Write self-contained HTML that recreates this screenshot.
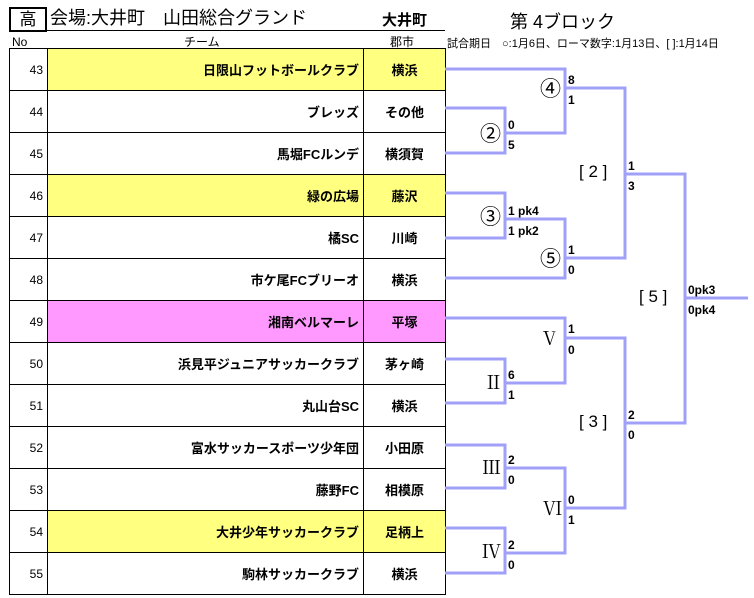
<!DOCTYPE html>
<html><head><meta charset="utf-8"><style>
body{margin:0;width:754px;height:598px;background:#fff;position:relative;overflow:hidden;font-family:"Liberation Sans","Noto Sans CJK JP",sans-serif;color:#000}
.a{position:absolute;white-space:nowrap}
table{position:absolute;left:9px;top:48px;border-collapse:collapse;table-layout:fixed;width:436px}
td{border:1px solid #000;height:41px;padding:0;font-size:13px;font-weight:bold;overflow:hidden;white-space:nowrap}
td.n{text-align:right;padding-right:4px;font-weight:normal;font-size:12px}
td.t{text-align:right;padding-right:4px}
td.c{text-align:center}
.y{background:#ffff80}.p{background:#ff99ff}
.s{position:absolute;font-size:12px;font-weight:bold;line-height:12px}
.m{position:absolute;font-size:17px;line-height:18px}
.c2{position:absolute;font-size:21px;line-height:22px;font-family:"Noto Sans CJK JP",sans-serif}
.r{position:absolute;font-size:19px;line-height:20px;font-family:"Noto Serif CJK SC",serif}
</style></head><body>
<div class="a" style="left:9px;top:7px;width:34px;height:21px;border:2px solid #000;font-size:17px;text-align:center;line-height:21px">高</div>
<div class="a" style="left:50px;top:7px;font-size:18px;line-height:22px">会場:大井町　山田総合グランド</div>
<div class="a" style="left:382px;top:9px;font-size:15px;font-weight:bold">大井町</div>
<div class="a" style="left:15px;top:30px;width:430px;border-top:1px solid #000"></div>
<div class="a" style="left:510px;top:8px;font-size:18px">第 4ブロック</div>
<div class="a" style="left:447px;top:35px;font-size:11px">試合期日　○:1月6日、ローマ数字:1月13日、[ ]:1月14日</div>
<div class="a" style="left:12px;top:35px;font-size:12px">No</div>
<div class="a" style="left:184px;top:33px;font-size:12px">チーム</div>
<div class="a" style="left:390px;top:33px;font-size:12px">郡市</div>
<table>
<colgroup><col style="width:38px"><col style="width:316px"><col style="width:82px"></colgroup>
<tr><td class="n">43</td><td class="t y">日限山フットボールクラブ</td><td class="c y">横浜</td></tr>
<tr><td class="n">44</td><td class="t">ブレッズ</td><td class="c">その他</td></tr>
<tr><td class="n">45</td><td class="t">馬堀FCルンデ</td><td class="c">横須賀</td></tr>
<tr><td class="n">46</td><td class="t y">緑の広場</td><td class="c y">藤沢</td></tr>
<tr><td class="n">47</td><td class="t">橘SC</td><td class="c">川崎</td></tr>
<tr><td class="n">48</td><td class="t">市ケ尾FCブリーオ</td><td class="c">横浜</td></tr>
<tr><td class="n">49</td><td class="t p">湘南ベルマーレ</td><td class="c p">平塚</td></tr>
<tr><td class="n">50</td><td class="t">浜見平ジュニアサッカークラブ</td><td class="c">茅ヶ崎</td></tr>
<tr><td class="n">51</td><td class="t">丸山台SC</td><td class="c">横浜</td></tr>
<tr><td class="n">52</td><td class="t">富水サッカースポーツ少年団</td><td class="c">小田原</td></tr>
<tr><td class="n">53</td><td class="t">藤野FC</td><td class="c">相模原</td></tr>
<tr><td class="n">54</td><td class="t y">大井少年サッカークラブ</td><td class="c y">足柄上</td></tr>
<tr><td class="n">55</td><td class="t">駒林サッカークラブ</td><td class="c">横浜</td></tr>
</table>
<svg class="a" style="left:0;top:0" width="754" height="598"><g fill="none" stroke="#a0a0f8" stroke-width="3">
<polyline points="445,69 565,69 565,133 505,133"/>
<polyline points="445,108 505,108 505,153 445,153"/>
<polyline points="565,88 625,88 625,258 565,258"/>
<polyline points="445,193 505,193 505,238 445,238"/>
<polyline points="505,219 565,219 565,278 445,278"/>
<polyline points="625,174 685,174 685,423 625,423"/>
<line x1="685" y1="298" x2="748" y2="298"/>
<polyline points="445,318 565,318 565,383 505,383"/>
<polyline points="445,359 505,359 505,403 445,403"/>
<polyline points="565,338 625,338 625,508 565,508"/>
<polyline points="445,445 505,445 505,488 445,488"/>
<polyline points="505,468 565,468 565,553 505,553"/>
<polyline points="445,528 505,528 505,573 445,573"/>
</g></svg>
<div class="c2" style="left:540px;top:77px">④</div>
<div class="c2" style="left:480px;top:122px">②</div>
<div class="c2" style="left:480px;top:205px">③</div>
<div class="c2" style="left:540px;top:247px">⑤</div>
<div class="m" style="left:579px;top:163px">[ 2 ]</div>
<div class="m" style="left:639px;top:288px">[ 5 ]</div>
<div class="m" style="left:579px;top:413px">[ 3 ]</div>
<div class="r" style="left:543px;top:328px">V</div>
<div class="r" style="left:484px;top:372px">Ⅱ</div>
<div class="r" style="left:482px;top:457px">Ⅲ</div>
<div class="r" style="left:543px;top:498px">Ⅵ</div>
<div class="r" style="left:482px;top:541px">Ⅳ</div>
<div class="s" style="left:568px;top:74px">8</div><div class="s" style="left:568px;top:94px">1</div>
<div class="s" style="left:508px;top:119px">0</div><div class="s" style="left:508px;top:139px">5</div>
<div class="s" style="left:628px;top:160px">1</div><div class="s" style="left:628px;top:180px">3</div>
<div class="s" style="left:508px;top:205px">1 pk4</div><div class="s" style="left:508px;top:225px">1 pk2</div>
<div class="s" style="left:568px;top:244px">1</div><div class="s" style="left:568px;top:264px">0</div>
<div class="s" style="left:688px;top:284px">0pk3</div><div class="s" style="left:688px;top:304px">0pk4</div>
<div class="s" style="left:568px;top:323px">1</div><div class="s" style="left:568px;top:344px">0</div>
<div class="s" style="left:508px;top:369px">6</div><div class="s" style="left:508px;top:389px">1</div>
<div class="s" style="left:628px;top:409px">2</div><div class="s" style="left:628px;top:429px">0</div>
<div class="s" style="left:508px;top:454px">2</div><div class="s" style="left:508px;top:474px">0</div>
<div class="s" style="left:568px;top:494px">0</div><div class="s" style="left:568px;top:514px">1</div>
<div class="s" style="left:508px;top:539px">2</div><div class="s" style="left:508px;top:559px">0</div>
</body></html>
